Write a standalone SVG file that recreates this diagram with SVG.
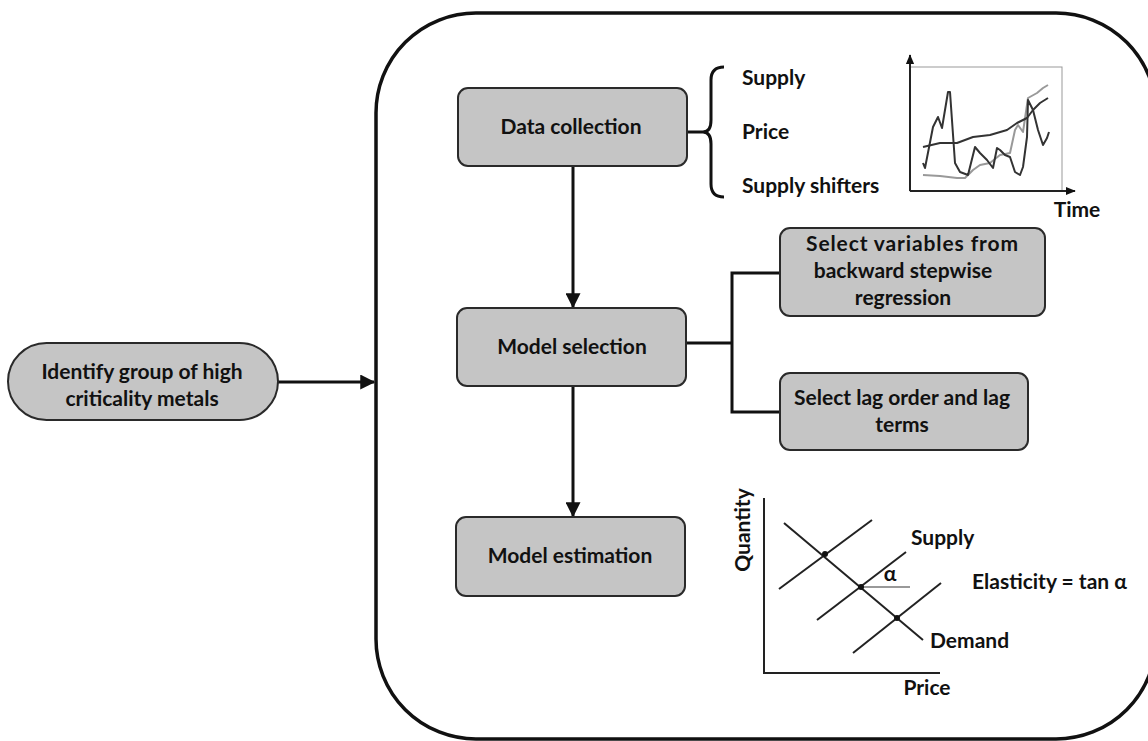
<svg xmlns="http://www.w3.org/2000/svg" width="1148" height="741" viewBox="0 0 1148 741">
  <defs>
    <style>
      .box { fill: #c5c5c5; stroke: #2a2a2a; stroke-width: 2; }
      .lbl { font-family: Lato, "Open Sans", sans-serif; font-weight: bold; font-size: 21px; fill: #111; }
      .wire { fill: none; stroke: #111; stroke-width: 3; }
      .thin { fill: none; stroke: #222; stroke-width: 2; }
      .plot { fill: none; stroke-width: 2; stroke-linejoin: round; }
    </style>
    <marker id="arrow" viewBox="0 0 12 12" refX="11" refY="6" markerWidth="5" markerHeight="5" markerUnits="strokeWidth" orient="auto">
      <path d="M0,0 L12,6 L0,12 z" fill="#111"/>
    </marker>
    <marker id="tip" viewBox="0 0 12 12" refX="11" refY="6" markerWidth="5" markerHeight="5" markerUnits="strokeWidth" orient="auto">
      <path d="M0,1 L12,6 L0,11 z" fill="#111"/>
    </marker>
  </defs>

  <!-- outer frame of the estimation workflow -->
  <rect id="workflow-frame" x="376" y="13" width="780" height="726" rx="100" ry="100" fill="none" stroke="#111" stroke-width="3.5"/>

  <!-- connectors -->
  <g id="connectors">
    <line class="wire" x1="278" y1="382" x2="374" y2="382" marker-end="url(#arrow)"/>
    <line class="wire" x1="573" y1="166" x2="573" y2="307" marker-end="url(#arrow)"/>
    <line class="wire" x1="573" y1="386" x2="573" y2="516" marker-end="url(#arrow)"/>
    <polyline class="wire" points="686,343 732,343"/>
    <polyline class="wire" points="780,273 732,273 732,412 780,412"/>
    <line class="wire" x1="687" y1="132" x2="703" y2="132"/>
    <!-- curly brace -->
    <path class="wire" d="M724,67 Q711,67 711,80 L711,120 Q711,132 703,132 Q711,132 711,144 L711,184 Q711,197 724,197"/>
  </g>

  <!-- start node -->
  <g id="identify">
    <rect class="box" x="8" y="343" width="270" height="77" rx="38.5" ry="38.5"/>
    <text class="lbl" x="142" y="379" text-anchor="middle">Identify group of high</text>
    <text class="lbl" x="142" y="406" text-anchor="middle">criticality metals</text>
  </g>

  <g id="data-collection">
    <rect class="box" x="458" y="88" width="229" height="78" rx="10"/>
    <text class="lbl" x="571" y="134" text-anchor="middle">Data collection</text>
  </g>

  <g id="model-selection">
    <rect class="box" x="457" y="308" width="229" height="78" rx="10"/>
    <text class="lbl" x="572" y="354" text-anchor="middle">Model selection</text>
  </g>

  <g id="model-estimation">
    <rect class="box" x="456" y="517" width="229" height="79" rx="10"/>
    <text class="lbl" x="570" y="563" text-anchor="middle">Model estimation</text>
  </g>

  <g id="select-variables">
    <rect class="box" x="780" y="228" width="265" height="88" rx="10"/>
    <text class="lbl" x="912" y="251" text-anchor="middle" textLength="212">Select variables from</text>
    <text class="lbl" x="903" y="278" text-anchor="middle">backward stepwise</text>
    <text class="lbl" x="903" y="305" text-anchor="middle">regression</text>
  </g>

  <g id="select-lag">
    <rect class="box" x="780" y="373" width="248" height="77" rx="10"/>
    <text class="lbl" x="902" y="405" text-anchor="middle">Select lag order and lag</text>
    <text class="lbl" x="902" y="432" text-anchor="middle">terms</text>
  </g>

  <!-- data series listed by the brace -->
  <g id="data-items">
    <text class="lbl" x="742" y="85">Supply</text>
    <text class="lbl" x="742" y="139">Price</text>
    <text class="lbl" x="742" y="193">Supply shifters</text>
  </g>

  <!-- time-series sketch -->
  <g id="time-series">
    <rect x="910" y="67" width="152" height="124" fill="none" stroke="#999" stroke-width="1"/>
    <line class="thin" x1="910" y1="191" x2="910" y2="55" marker-end="url(#tip)"/>
    <line class="thin" x1="910" y1="191" x2="1075" y2="191" marker-end="url(#tip)"/>
    <polyline class="plot" stroke="#999" stroke-width="1.5" points="923,175 940,176 957,178 965,178 973,170 980,165 990,163 1000,155 1010,153 1015,130 1018,125 1023,132 1028,98 1037,93 1043,88 1048,85"/>
    <polyline class="plot" stroke="#333" points="923,147 940,143 957,143 973,137 990,135 1007,130 1017,123 1027,118 1033,110 1040,103 1048,98"/>
    <polyline class="plot" stroke="#333" points="923,163 925,168 933,127 938,117 942,128 948,92 950,92 955,163 960,172 968,175 975,147 980,153 987,160 993,168 997,148 1000,150 1005,155 1010,157 1015,172 1020,175 1023,167 1027,137 1028,100 1033,110 1038,130 1043,145 1047,138 1049,132"/>
    <text class="lbl" x="1077" y="217" text-anchor="middle">Time</text>
  </g>

  <!-- supply and demand sketch -->
  <g id="elasticity">
    <polyline class="thin" points="764,498 764,673 940,673"/>
    <line class="thin" x1="784" y1="523" x2="923" y2="640"/>
    <line class="thin" x1="779" y1="589" x2="872" y2="520"/>
    <line class="thin" x1="817" y1="620" x2="906" y2="552"/>
    <line class="thin" x1="853" y1="653" x2="941" y2="583"/>
    <line x1="861" y1="587" x2="910" y2="587" stroke="#777" stroke-width="1.5"/>
    <circle cx="825" cy="554" r="3" fill="#111"/>
    <circle cx="861" cy="587" r="3" fill="#111"/>
    <circle cx="897" cy="618" r="3" fill="#111"/>
    <text class="lbl" x="890" y="581" text-anchor="middle">α</text>
    <text class="lbl" x="911" y="545">Supply</text>
    <text class="lbl" x="972" y="589">Elasticity = tan α</text>
    <text class="lbl" x="930" y="648">Demand</text>
    <text class="lbl" x="927" y="695" text-anchor="middle">Price</text>
    <text class="lbl" x="750" y="530" text-anchor="middle" transform="rotate(-90 750 530)">Quantity</text>
  </g>
</svg>
